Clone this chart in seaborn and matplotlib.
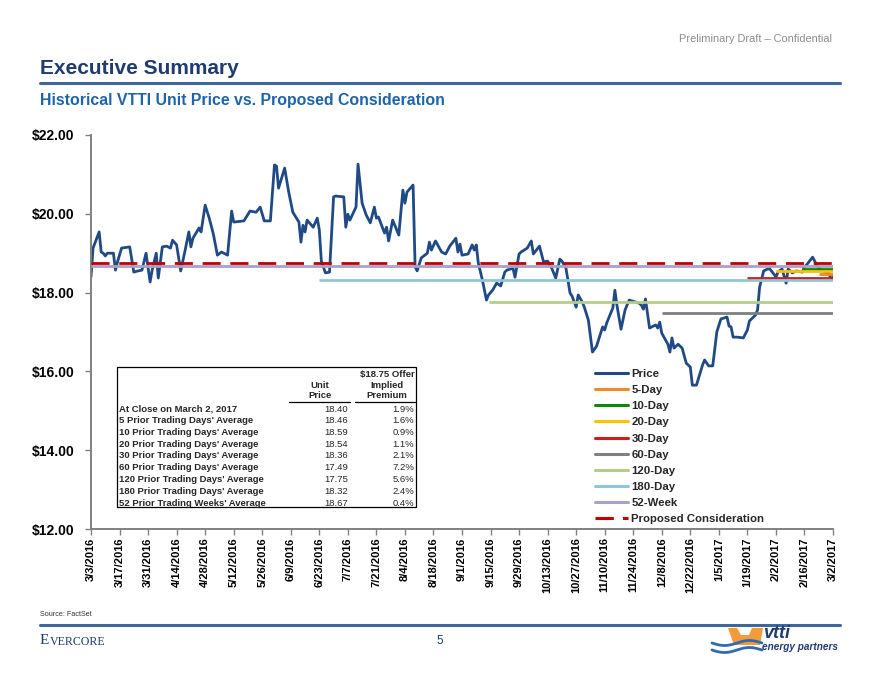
import matplotlib
matplotlib.use("Agg")
import matplotlib.pyplot as plt
from matplotlib.lines import Line2D
from matplotlib.patches import Rectangle, Polygon
import seaborn as sns
import pandas as pd
import numpy as np

# ---------------- data ----------------
price_dates = [
    "2016-03-03", "2016-03-04", "2016-03-07", "2016-03-08", "2016-03-09", "2016-03-10", "2016-03-11",
    "2016-03-14", "2016-03-15", "2016-03-16", "2016-03-18", "2016-03-22", "2016-03-24", "2016-03-26",
    "2016-03-28", "2016-03-30", "2016-04-01", "2016-04-02", "2016-04-04", "2016-04-05", "2016-04-07",
    "2016-04-09", "2016-04-11", "2016-04-12", "2016-04-14", "2016-04-16", "2016-04-18", "2016-04-20",
    "2016-04-21", "2016-04-22", "2016-04-25", "2016-04-26", "2016-04-28", "2016-04-30", "2016-05-02",
    "2016-05-04", "2016-05-06", "2016-05-09", "2016-05-11", "2016-05-12", "2016-05-17", "2016-05-20",
    "2016-05-23", "2016-05-25", "2016-05-27", "2016-05-30", "2016-06-01", "2016-06-02", "2016-06-03",
    "2016-06-06", "2016-06-08", "2016-06-10", "2016-06-13", "2016-06-14", "2016-06-15", "2016-06-16",
    "2016-06-17", "2016-06-20", "2016-06-22", "2016-06-23", "2016-06-24", "2016-06-26", "2016-06-28",
    "2016-06-30", "2016-07-01", "2016-07-05", "2016-07-06", "2016-07-07", "2016-07-08", "2016-07-11",
    "2016-07-12", "2016-07-14", "2016-07-16", "2016-07-18", "2016-07-20", "2016-07-21", "2016-07-22",
    "2016-07-25", "2016-07-26", "2016-07-27", "2016-07-29", "2016-08-01", "2016-08-03", "2016-08-04",
    "2016-08-05", "2016-08-08", "2016-08-09", "2016-08-10", "2016-08-12", "2016-08-15", "2016-08-16",
    "2016-08-17", "2016-08-19", "2016-08-22", "2016-08-24", "2016-08-26", "2016-08-29", "2016-08-30",
    "2016-08-31", "2016-09-01", "2016-09-04", "2016-09-06", "2016-09-07", "2016-09-08", "2016-09-09",
    "2016-09-11", "2016-09-13", "2016-09-14", "2016-09-16", "2016-09-18", "2016-09-20", "2016-09-22",
    "2016-09-23", "2016-09-26", "2016-09-27", "2016-09-29", "2016-09-30", "2016-10-03", "2016-10-05",
    "2016-10-06", "2016-10-09", "2016-10-11", "2016-10-13", "2016-10-15", "2016-10-17", "2016-10-19",
    "2016-10-20", "2016-10-22", "2016-10-24", "2016-10-25", "2016-10-27", "2016-10-28", "2016-10-30",
    "2016-10-31", "2016-11-02", "2016-11-04", "2016-11-06", "2016-11-09", "2016-11-10", "2016-11-11",
    "2016-11-14", "2016-11-15", "2016-11-16", "2016-11-18", "2016-11-20", "2016-11-22", "2016-11-27",
    "2016-11-28", "2016-11-29", "2016-11-30", "2016-12-02", "2016-12-05", "2016-12-06", "2016-12-07",
    "2016-12-08", "2016-12-11", "2016-12-12", "2016-12-13", "2016-12-14", "2016-12-16", "2016-12-18",
    "2016-12-20", "2016-12-22", "2016-12-23", "2016-12-25", "2016-12-28", "2016-12-29", "2016-12-31",
    "2017-01-02", "2017-01-04", "2017-01-06", "2017-01-09", "2017-01-10", "2017-01-11", "2017-01-12",
    "2017-01-14", "2017-01-17", "2017-01-19", "2017-01-20", "2017-01-23", "2017-01-24", "2017-01-25",
    "2017-01-27", "2017-01-29", "2017-01-30", "2017-02-01", "2017-02-02", "2017-02-03", "2017-02-05",
    "2017-02-07", "2017-02-08", "2017-02-10", "2017-02-12", "2017-02-15", "2017-02-16", "2017-02-17",
    "2017-02-20", "2017-02-22", "2017-02-23", "2017-02-26", "2017-02-28", "2017-03-01", "2017-03-02",
]
price_values = [
    18.40, 19.13, 19.54, 19.03, 19.00, 18.93, 19.00,
    19.00, 18.57, 18.78, 19.13, 19.16, 18.52, 18.55,
    18.57, 19.00, 18.27, 18.57, 19.00, 18.37, 19.16,
    19.18, 19.13, 19.33, 19.21, 18.55, 19.03, 19.54,
    19.16, 19.38, 19.64, 19.54, 20.22, 19.89, 19.49,
    18.95, 19.03, 18.95, 20.07, 19.79, 19.82, 20.07,
    20.04, 20.17, 19.82, 19.82, 21.24, 21.21, 20.65,
    21.16, 20.55, 20.04, 19.79, 19.28, 19.71, 19.54,
    19.84, 19.66, 19.89, 19.59, 18.80, 18.50, 18.52,
    20.43, 20.45, 20.43, 19.66, 19.99, 19.84, 20.17,
    21.26, 20.27, 19.97, 19.77, 20.17, 19.89, 19.92,
    19.51, 19.66, 19.31, 19.84, 19.46, 20.60, 20.27,
    20.55, 20.73, 18.65, 18.55, 18.88, 19.00, 19.28,
    19.08, 19.31, 19.03, 18.98, 19.18, 19.38, 19.03,
    19.23, 18.95, 18.98, 19.21, 19.08, 19.21, 18.75,
    18.32, 17.81, 17.94, 18.06, 18.24, 18.17, 18.52,
    18.57, 18.62, 18.39, 18.98, 19.03, 19.13, 19.31,
    18.98, 19.18, 18.78, 18.80, 18.62, 18.37, 18.85,
    18.80, 18.62, 17.99, 17.91, 17.63, 17.94, 17.76,
    17.63, 17.30, 16.49, 16.64, 17.13, 17.05, 17.23,
    17.61, 18.06, 17.68, 17.07, 17.56, 17.81, 17.73,
    17.68, 17.58, 17.84, 17.10, 17.18, 17.10, 17.25,
    16.97, 16.69, 16.49, 16.85, 16.59, 16.69, 16.59,
    16.21, 16.11, 15.65, 15.65, 16.16, 16.29, 16.14,
    16.14, 17.00, 17.33, 17.38, 17.15, 17.13, 16.87,
    16.87, 16.85, 17.05, 17.28, 17.43, 17.56, 18.14,
    18.55, 18.60, 18.60, 18.47, 18.39, 18.52, 18.60,
    18.24, 18.60, 18.50, 18.55, 18.52, 18.65, 18.70,
    18.90, 18.70, 18.62, 18.52, 18.50, 18.32, 18.40,
]

avg_labels = ["5-Day", "10-Day", "20-Day", "30-Day", "60-Day", "120-Day", "180-Day", "52-Week"]
avg_values = [18.46, 18.59, 18.54, 18.36, 17.49, 17.75, 18.32, 18.67]
avg_starts = ["2017-02-23", "2017-02-15", "2017-02-02", "2017-01-19",
              "2016-12-08", "2016-09-14", "2016-06-23", "2016-03-03"]
period_start = "2016-03-03"
period_end = "2017-03-02"
offer_label = "Proposed Consideration"
offer_value = 18.75

table_rows = ["At Close on March 2, 2017", "5 Prior Trading Days' Average",
              "10 Prior Trading Days' Average", "20 Prior Trading Days' Average",
              "30 Prior Trading Days' Average", "60 Prior Trading Days' Average",
              "120 Prior Trading Days' Average", "180 Prior Trading Days' Average",
              "52 Prior Trading Weeks' Average"]
table_unit_price = ["18.40", "18.46", "18.59", "18.54", "18.36", "17.49", "17.75", "18.32", "18.67"]
table_premium = ["1.9%", "1.6%", "0.9%", "1.1%", "2.1%", "7.2%", "5.6%", "2.4%", "0.4%"]

y_ticks = [12, 14, 16, 18, 20, 22]
x_tick_labels = ["3/3/2016", "3/17/2016", "3/31/2016", "4/14/2016", "4/28/2016", "5/12/2016",
                 "5/26/2016", "6/9/2016", "6/23/2016", "7/7/2016", "7/21/2016", "8/4/2016",
                 "8/18/2016", "9/1/2016", "9/15/2016", "9/29/2016", "10/13/2016", "10/27/2016",
                 "11/10/2016", "11/24/2016", "12/8/2016", "12/22/2016", "1/5/2017", "1/19/2017",
                 "2/2/2017", "2/16/2017", "3/2/2017"]

# ---------------- style ----------------
price_color = "#1F4A86"
avg_colors = ["#F0892A", "#0A8A0A", "#FFC000", "#CC1F1F", "#7F7F7F", "#B3CD8C", "#8EC6DA", "#AAA0C8"]
offer_color = "#C00000"
navy = "#1F3B70"

sns.set_theme(style="white")
plt.rcParams['font.family'] = ['Liberation Sans', 'DejaVu Sans']

W, H = 880, 680
fig = plt.figure(figsize=(W / 100, H / 100), dpi=100)


def fx(x):
    return x / W


def fy(y):
    return 1 - y / H


ax = fig.add_axes([fx(91), fy(529), (833 - 91) / W, (529 - 135) / H])

df = pd.DataFrame({"date": pd.to_datetime(price_dates), "price": price_values})
sns.lineplot(data=df, x="date", y="price", ax=ax, color=price_color, linewidth=2.0, zorder=2)

handles = [Line2D([], [], color=price_color, lw=2.2, label="Price")]
t_end = pd.Timestamp(period_end)
for lab, val, st, col in zip(avg_labels, avg_values, avg_starts, avg_colors):
    ax.plot([pd.Timestamp(st), t_end], [val, val], color=col, lw=2.0, zorder=3,
            solid_capstyle='butt')
    handles.append(Line2D([], [], color=col, lw=2.2, label=lab))
ax.plot([pd.Timestamp(period_start), t_end], [offer_value, offer_value], color=offer_color,
        lw=2.0, dashes=(6.5, 3.5), zorder=4)
handles.append(Line2D([], [], color=offer_color, lw=2.2, dashes=(6, 3), label=offer_label))

ax.set_xlim(pd.Timestamp(period_start), t_end)
ax.set_ylim(min(y_ticks), max(y_ticks))
ax.set_yticks(y_ticks)
ax.set_yticklabels([f"${v:.2f}" for v in y_ticks], fontweight='bold', fontsize=10)
xt = pd.to_datetime(x_tick_labels, format="%m/%d/%Y")
ax.set_xticks(xt)
ax.set_xticklabels(x_tick_labels, rotation=90, fontweight='bold', fontsize=8.0, va='top')
ax.set_xlabel("")
ax.set_ylabel("")
for s in ["top", "right"]:
    ax.spines[s].set_visible(False)
for s in ["left", "bottom"]:
    ax.spines[s].set_color("#808080")
    ax.spines[s].set_linewidth(1.4)
ax.tick_params(axis='both', bottom=True, left=True, direction='out', length=4,
               width=1, color='#808080', labelcolor='black')
ax.tick_params(axis='y', pad=8)
ax.tick_params(axis='x', pad=2)
ax.grid(False)
ax.patch.set_alpha(0)

leg = fig.legend(handles=handles, loc='upper left', bbox_to_anchor=(fx(595), fy(369)),
                 bbox_transform=fig.transFigure, frameon=False,
                 prop={'weight': 'bold', 'size': 8.2}, handlelength=2.9, handletextpad=0.3,
                 labelspacing=0.54, borderpad=0, borderaxespad=0)

# ---------------- table ----------------
fig.add_artist(Rectangle((fx(117), fy(507)), (416 - 117) / W, (507 - 367) / H,
                         transform=fig.transFigure, facecolor='white', edgecolor='black',
                         lw=0.9, zorder=5))
tfs = 6.8
fig.text(fx(387), fy(374.5), "$18.75 Offer", ha='center', va='center', fontsize=tfs,
         fontweight='bold', zorder=6)
fig.text(fx(320), fy(385), "Unit", ha='center', va='center', fontsize=tfs, fontweight='bold', zorder=6)
fig.text(fx(320), fy(395.5), "Price", ha='center', va='center', fontsize=tfs, fontweight='bold', zorder=6)
fig.text(fx(387), fy(385), "Implied", ha='center', va='center', fontsize=tfs, fontweight='bold', zorder=6)
fig.text(fx(387), fy(395.5), "Premium", ha='center', va='center', fontsize=tfs, fontweight='bold', zorder=6)
fig.add_artist(Line2D([fx(289), fx(350)], [fy(401.5), fy(401.5)], transform=fig.transFigure,
                      color='black', lw=0.9, zorder=6))
fig.add_artist(Line2D([fx(355), fx(415)], [fy(401.5), fy(401.5)], transform=fig.transFigure,
                      color='black', lw=0.9, zorder=6))
for i, (lab, up, pr) in enumerate(zip(table_rows, table_unit_price, table_premium)):
    yy = 409 + i * 11.75
    fig.text(fx(119), fy(yy), lab, ha='left', va='center', fontsize=tfs, fontweight='bold', zorder=6)
    fig.text(fx(348), fy(yy), up, ha='right', va='center', fontsize=tfs, zorder=6)
    fig.text(fx(414), fy(yy), pr, ha='right', va='center', fontsize=tfs, zorder=6)

# ---------------- header / footer ----------------
fig.text(fx(832), fy(39), "Preliminary Draft \u2013 Confidential", ha='right', va='center',
         fontsize=7.9, color='#8C8C8C')
fig.text(fx(40), fy(68), "Executive Summary", ha='left', va='center', fontsize=15,
         fontweight='bold', color=navy)
fig.add_artist(Line2D([fx(40), fx(840)], [fy(83), fy(83)], transform=fig.transFigure,
                      color='#41669A', lw=2.2))
fig.text(fx(40), fy(101), "Historical VTTI Unit Price vs. Proposed Consideration", ha='left',
         va='center', fontsize=11.4, fontweight='bold', color='#1E64AA')

fig.text(fx(40), fy(615), "Source: FactSet", ha='left', va='center', fontsize=5.2, color='#333333')
fig.add_artist(Line2D([fx(40), fx(840)], [fy(625), fy(625)], transform=fig.transFigure,
                      color='#41669A', lw=2.2))
fig.text(fx(40), fy(641), "E", ha='left', va='center', fontsize=11,
         family=['Liberation Serif', 'DejaVu Serif'], color=navy)
fig.text(fx(50), fy(642), "VERCORE", ha='left', va='center', fontsize=8.6,
         family=['Liberation Serif', 'DejaVu Serif'], color=navy)
fig.text(fx(440), fy(641), "5", ha='center', va='center', fontsize=8.5, color=navy)

# logo
orange = Polygon([[fx(728), fy(628)], [fx(737), fy(628)], [fx(741), fy(635)], [fx(749), fy(635)],
                  [fx(752), fy(628)], [fx(763), fy(628)], [fx(760), fy(645)], [fx(734), fy(645)]],
                 closed=True, transform=fig.transFigure, facecolor='#F39A3A', edgecolor='none')
fig.add_artist(orange)
tt = np.linspace(0, 1, 30)
for off in (0, 7):
    xs = 712 + tt * 50
    ys = 643 + off + 2.5 * np.sin(tt * 2 * np.pi)
    fig.add_artist(Line2D(fx(xs), fy(ys), transform=fig.transFigure, color='#2E6BB0', lw=2.0))
fig.text(fx(763), fy(634), "vtti", ha='left', va='center', fontsize=13, fontweight='bold',
         style='italic', color='#1F3B70')
fig.text(fx(762), fy(647), "energy partners", ha='left', va='center', fontsize=7.2,
         fontweight='bold', style='italic', color='#1F3B70')

fig.savefig("out.png", dpi=100)
